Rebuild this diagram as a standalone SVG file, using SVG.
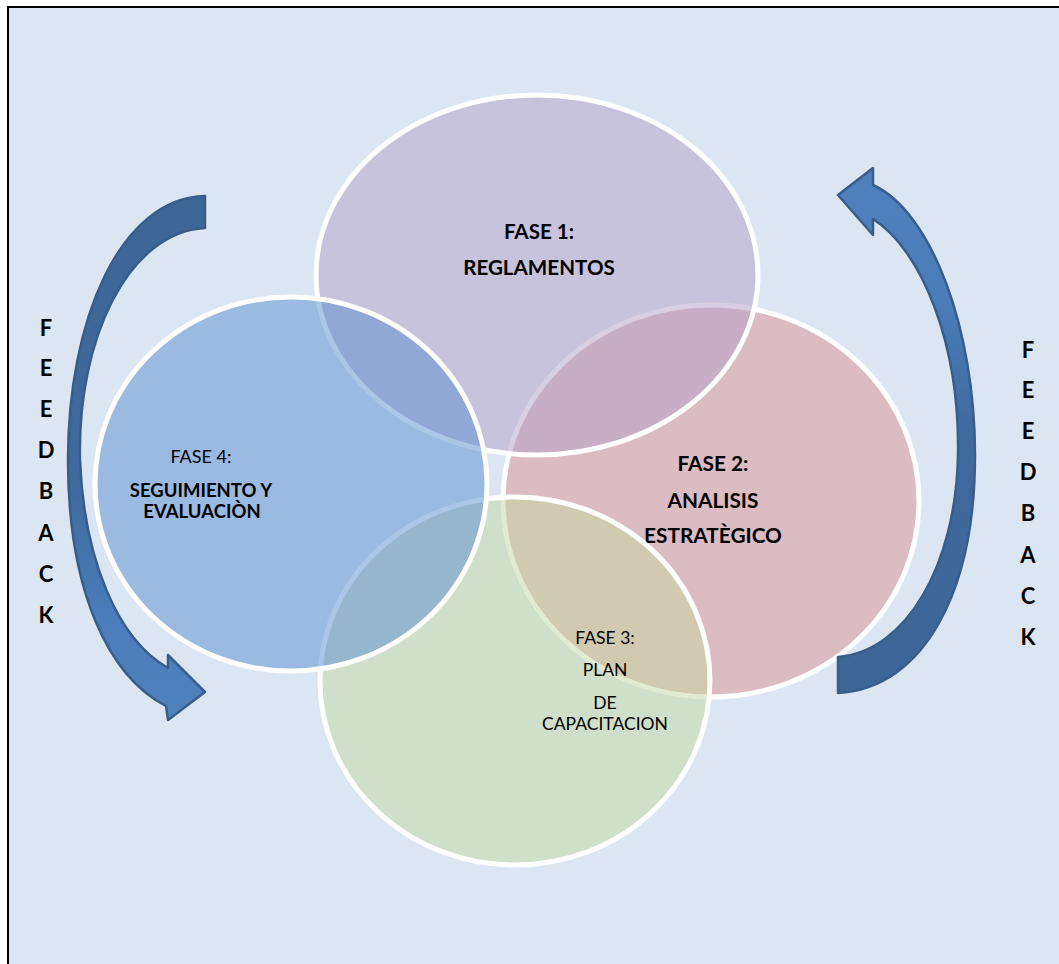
<svg xmlns="http://www.w3.org/2000/svg" width="1059" height="964" viewBox="0 0 1059 964">
<defs>
<style>
.c{stroke:#ffffff;stroke-width:5;fill-opacity:0.5}
.t{font-family:Lato,"Liberation Sans",sans-serif;fill:#000;text-anchor:middle}
.b{font-weight:bold}
.fb{font-family:Lato,"Liberation Sans",sans-serif;font-weight:bold;font-size:22px;fill:#000;text-anchor:middle}
.arr{stroke:#385d8a;stroke-width:2.5;stroke-linejoin:round}
</style>
<linearGradient id="gl" x1="0" y1="0" x2="0" y2="1">
<stop offset="0" stop-color="#3d6596"/>
<stop offset="0.55" stop-color="#3f6a9e"/>
<stop offset="0.8" stop-color="#4a7dba"/>
<stop offset="1" stop-color="#4f81bd"/>
</linearGradient>
<linearGradient id="gr" x1="0" y1="0" x2="0" y2="1">
<stop offset="0" stop-color="#4f81bd"/>
<stop offset="0.25" stop-color="#4a7dba"/>
<stop offset="0.5" stop-color="#3f6a9e"/>
<stop offset="1" stop-color="#3d6596"/>
</linearGradient>
</defs>
<rect x="0" y="0" width="1059" height="964" fill="#ffffff"/>
<rect x="8" y="7" width="1060" height="970" fill="#dce6f2" stroke="#000" stroke-width="2"/>

<g id="fase2">
<ellipse class="c" cx="711" cy="501" rx="208" ry="196" fill="#dc9294"/>
<text class="t b" font-size="20.8" x="713" y="471">FASE 2:</text>
<text class="t b" font-size="20.8" x="713" y="508">ANALISIS</text>
<text class="t b" font-size="20.8" x="713" y="543">ESTRATÈGICO</text>
</g>
<g id="fase1">
<ellipse class="c" cx="537" cy="275" rx="221" ry="180" fill="#b4a0c6"/>
<text class="t b" font-size="20.6" x="539" y="239">FASE 1:</text>
<text class="t b" font-size="20.6" x="539" y="275">REGLAMENTOS</text>
</g>
<g id="fase3">
<ellipse class="c" cx="515" cy="681" rx="195" ry="184" fill="#c4d8a0"/>
<text class="t" font-size="17.5" x="605" y="644">FASE 3:</text>
<text class="t" font-size="17.5" x="605" y="676">PLAN</text>
<text class="t" font-size="17.5" x="605" y="709">DE</text>
<text class="t" font-size="17.5" x="605" y="730">CAPACITACION</text>
</g>
<g id="fase4">
<ellipse class="c" cx="291" cy="484" rx="196" ry="187" fill="#5a8ed2"/>
<text class="t" font-size="18" x="201" y="463">FASE 4:</text>
<text class="t b" font-size="18.5" x="201" y="497">SEGUIMIENTO Y</text>
<text class="t b" font-size="18.5" x="202" y="518">EVALUACIÒN</text>
</g>

<g id="connectors">
<g id="feedback-left">
<path class="arr" fill="url(#gl)" d="M205,196 C120,198 68,320 68,460 C68,590 108,676 166,706 L168,720 L205,692 L168,655 L168,668 C118,640 84,560 80,460 C77,340 128,232 205,228 Z"/>
</g>
<g id="feedback-right">
<path class="arr" fill="url(#gr)" d="M873,185 C932,212 975,330 975,455 C975,590 925,688 838,693 L838,657 C906,652 956,565 958,455 C960,345 922,250 873,219 L873,235 L838,195 L873,168 Z"/>
</g>
</g>

<g id="feedback-labels">
<text class="fb" x="46" y="336">F</text>
<text class="fb" x="46" y="376">E</text>
<text class="fb" x="46" y="417">E</text>
<text class="fb" x="46" y="458">D</text>
<text class="fb" x="46" y="499">B</text>
<text class="fb" x="46" y="541">A</text>
<text class="fb" x="46" y="582">C</text>
<text class="fb" x="46" y="623">K</text>
<text class="fb" x="1028" y="358">F</text>
<text class="fb" x="1028" y="398">E</text>
<text class="fb" x="1028" y="439">E</text>
<text class="fb" x="1028" y="480">D</text>
<text class="fb" x="1028" y="521">B</text>
<text class="fb" x="1028" y="563">A</text>
<text class="fb" x="1028" y="604">C</text>
<text class="fb" x="1028" y="645">K</text>
</g>
</svg>
